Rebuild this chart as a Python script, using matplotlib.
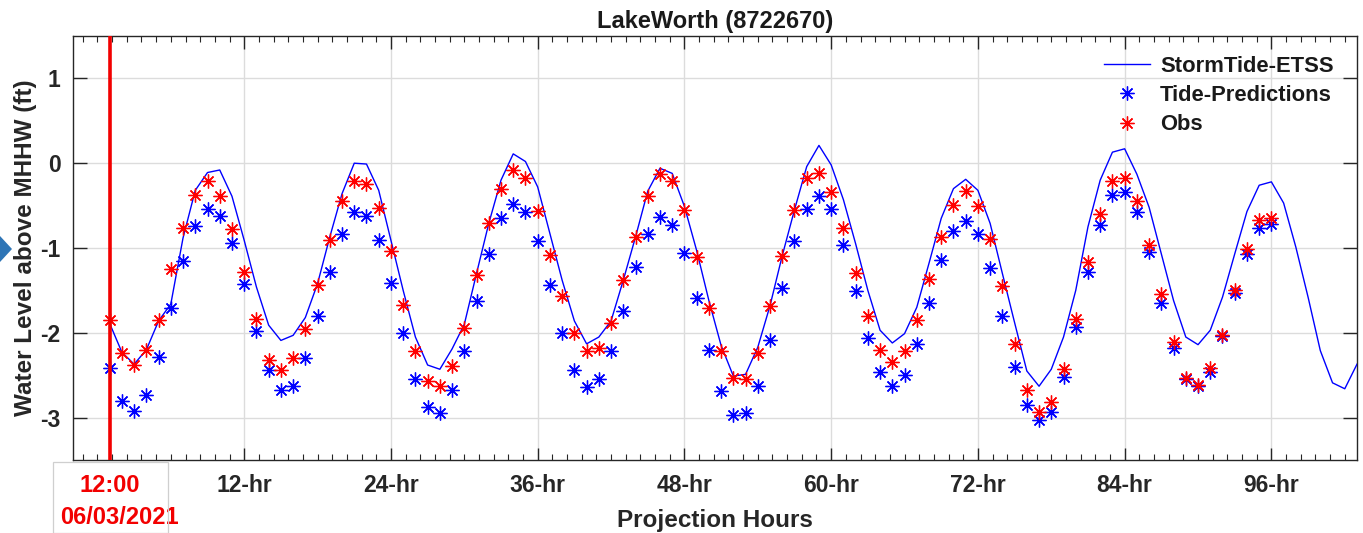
import matplotlib
matplotlib.use("Agg")
import matplotlib.pyplot as plt
import matplotlib.transforms as mtransforms
from matplotlib.ticker import MultipleLocator, FixedLocator
from matplotlib.patches import Polygon, Rectangle
import numpy as np

plt.rcParams['font.family'] = ['Liberation Sans', 'DejaVu Sans']

# ---------------- data ----------------
etss_hours = list(range(1, 104))
etss_level = [-1.89, -2.23, -2.37, -2.20, -1.86, -1.66, -0.88, -0.32, -0.11, -0.08,
              -0.39, -0.91, -1.46, -1.91, -2.09, -2.03, -1.82, -1.42, -0.87, -0.36,
              0.00, -0.01, -0.32, -0.91, -1.50, -2.05, -2.38, -2.43, -2.19, -1.90,
              -1.30, -0.71, -0.20, 0.11, 0.02, -0.28, -0.83, -1.38, -1.86, -2.13,
              -2.05, -1.86, -1.38, -0.87, -0.33, -0.06, -0.12, -0.51, -1.03, -1.62,
              -2.15, -2.51, -2.49, -2.17, -1.68, -1.09, -0.55, -0.04, 0.21, -0.02,
              -0.43, -0.95, -1.50, -1.97, -2.12, -2.01, -1.70, -1.18, -0.65, -0.30,
              -0.19, -0.32, -0.71, -1.30, -1.88, -2.45, -2.63, -2.43, -2.05, -1.50,
              -0.75, -0.20, 0.13, 0.17, -0.13, -0.52, -1.07, -1.62, -2.05, -2.14,
              -1.97, -1.58, -1.07, -0.57, -0.26, -0.22, -0.47, -0.99, -1.58, -2.21,
              -2.59, -2.66, -2.37]

obs_hours = list(range(1, 97))
tide_pred = [-2.41, -2.80, -2.92, -2.73, -2.29, -1.71, -1.15, -0.74, -0.54, -0.62,
             -0.94, -1.43, -1.98, -2.44, -2.68, -2.63, -2.30, -1.80, -1.28, -0.83,
             -0.58, -0.62, -0.91, -1.41, -2.00, -2.55, -2.87, -2.94, -2.68, -2.21,
             -1.63, -1.07, -0.65, -0.48, -0.57, -0.92, -1.44, -2.00, -2.44, -2.64,
             -2.55, -2.22, -1.74, -1.22, -0.84, -0.64, -0.73, -1.06, -1.59, -2.20,
             -2.69, -2.97, -2.94, -2.63, -2.09, -1.47, -0.92, -0.54, -0.39, -0.54,
             -0.96, -1.51, -2.06, -2.46, -2.63, -2.50, -2.13, -1.65, -1.14, -0.80,
             -0.68, -0.84, -1.24, -1.80, -2.40, -2.85, -3.03, -2.93, -2.52, -1.93,
             -1.28, -0.73, -0.38, -0.34, -0.58, -1.05, -1.65, -2.18, -2.54, -2.63,
             -2.46, -2.04, -1.53, -1.07, -0.77, -0.72]
obs_level = [-1.85, -2.24, -2.38, -2.20, -1.85, -1.25, -0.77, -0.37, -0.21, -0.39,
             -0.78, -1.28, -1.84, -2.32, -2.44, -2.30, -1.95, -1.44, -0.90, -0.45,
             -0.21, -0.24, -0.53, -1.04, -1.67, -2.21, -2.57, -2.63, -2.39, -1.94,
             -1.32, -0.71, -0.31, -0.08, -0.18, -0.56, -1.08, -1.57, -2.00, -2.22,
             -2.18, -1.89, -1.38, -0.87, -0.39, -0.13, -0.21, -0.55, -1.11, -1.71,
             -2.22, -2.53, -2.54, -2.24, -1.68, -1.09, -0.55, -0.18, -0.12, -0.34,
             -0.77, -1.29, -1.80, -2.20, -2.34, -2.22, -1.85, -1.36, -0.87, -0.49,
             -0.33, -0.50, -0.89, -1.45, -2.13, -2.68, -2.93, -2.82, -2.43, -1.84,
             -1.16, -0.60, -0.21, -0.17, -0.45, -0.97, -1.54, -2.11, -2.53, -2.61,
             -2.42, -2.03, -1.50, -1.01, -0.67, -0.65]

xtick_pos = [12, 24, 36, 48, 60, 72, 84, 96]
xtick_labels = ['12-hr', '24-hr', '36-hr', '48-hr', '60-hr', '72-hr', '84-hr', '96-hr']
ytick_pos = [-3, -2, -1, 0, 1]
start_hour = 1
start_time = '12:00'
start_date = '06/03/2021'

# ---------------- figure ----------------
W, H = 1363, 533
fig = plt.figure(figsize=(W / 100, H / 100), dpi=100)
fig.patch.set_facecolor('white')
ax = fig.add_axes([73 / W, 73 / H, 1284 / W, 424 / H])

ax.plot(etss_hours, etss_level, color=(0, 0, 1), lw=1.0, label='StormTide-ETSS', zorder=3)
ast = (8, 2, 0)
ax.plot(obs_hours, tide_pred, ls='none', marker=ast, ms=10, mew=0.95,
        color=(0, 0, 1), label='Tide-Predictions', zorder=4)
ax.plot(obs_hours, obs_level, ls='none', marker=ast, ms=10, mew=0.95,
        color=(1, 0, 0), label='Obs', zorder=5)
ax.axvline(start_hour, color=(0.95, 0, 0), lw=2.6, zorder=6)

ax.set_xlim(-2, 103)
ax.set_ylim(-3.5, 1.5)
ax.xaxis.set_major_locator(FixedLocator(xtick_pos))
ax.set_xticklabels(xtick_labels)
ax.xaxis.set_minor_locator(MultipleLocator(1.2))
ax.set_yticks(ytick_pos)
ax.set_yticklabels([str(v) for v in ytick_pos])

ax.grid(True, which='major', color='#dcdcdc', lw=1.0, zorder=0)
ax.set_axisbelow(True)
for s in ax.spines.values():
    s.set_color('#262626')
    s.set_linewidth(1.0)

ax.tick_params(axis='x', which='major', direction='in', length=9, width=1.0,
               top=True, bottom=True, colors='#262626', labelsize=16.5, pad=10)
ax.tick_params(axis='x', which='minor', direction='in', length=4.5, width=0.8,
               top=True, bottom=True, colors='#262626')
ax.tick_params(axis='y', which='major', direction='in', length=10, width=1.0,
               left=True, right=True, colors='#262626', labelsize=16.5, pad=9)
for lab in ax.get_xticklabels() + ax.get_yticklabels():
    lab.set_fontweight('bold')
    lab.set_color('#262626')

ax.set_title('LakeWorth (8722670)', fontsize=17, fontweight='bold', color='#1a1a1a', pad=6)
ax.set_xlabel('Projection Hours', fontsize=17.5, fontweight='bold', color='#262626', labelpad=9)
ax.set_ylabel('Water Level above MHHW (ft)', fontsize=17.5, fontweight='bold', color='#262626', labelpad=2)

# start-time label under the red line
to_px = mtransforms.blended_transform_factory(ax.transData, fig.transFigure)
ax.text(start_hour, 1 - 485 / H, start_time, transform=to_px, ha='center', va='center',
        color=(0.95, 0, 0), fontsize=17, fontweight='bold', clip_on=False)
ax.text(start_hour, 1 - 518 / H,
        start_date, transform=to_px + mtransforms.ScaledTranslation(10 / 100, 0, fig.dpi_scale_trans),
        ha='center', va='center', color=(0.95, 0, 0), fontsize=17, fontweight='bold', clip_on=False)
fig.patches.append(Rectangle((53 / W, 0.0), 115 / W, 71 / H, transform=fig.transFigure,
                             facecolor='none', edgecolor='#cfcfcf', lw=0.9))

leg = ax.legend(loc='upper right', bbox_to_anchor=(0.992, 0.985), frameon=False,
                prop={'weight': 'bold', 'size': 15.8}, handlelength=2.1,
                labelspacing=0.38, handletextpad=0.45, borderaxespad=0.2)
for t in leg.get_texts():
    t.set_color('#1a1a1a')

# slide bullet at the left edge
fig.patches.append(Polygon([[0, 1 - 236 / H], [12 / W, 1 - 249 / H], [0, 1 - 262 / H]],
                           closed=True, transform=fig.transFigure, facecolor='#2e75b6',
                           edgecolor='none'))

fig.savefig('out.png', dpi=100, facecolor=fig.get_facecolor())
